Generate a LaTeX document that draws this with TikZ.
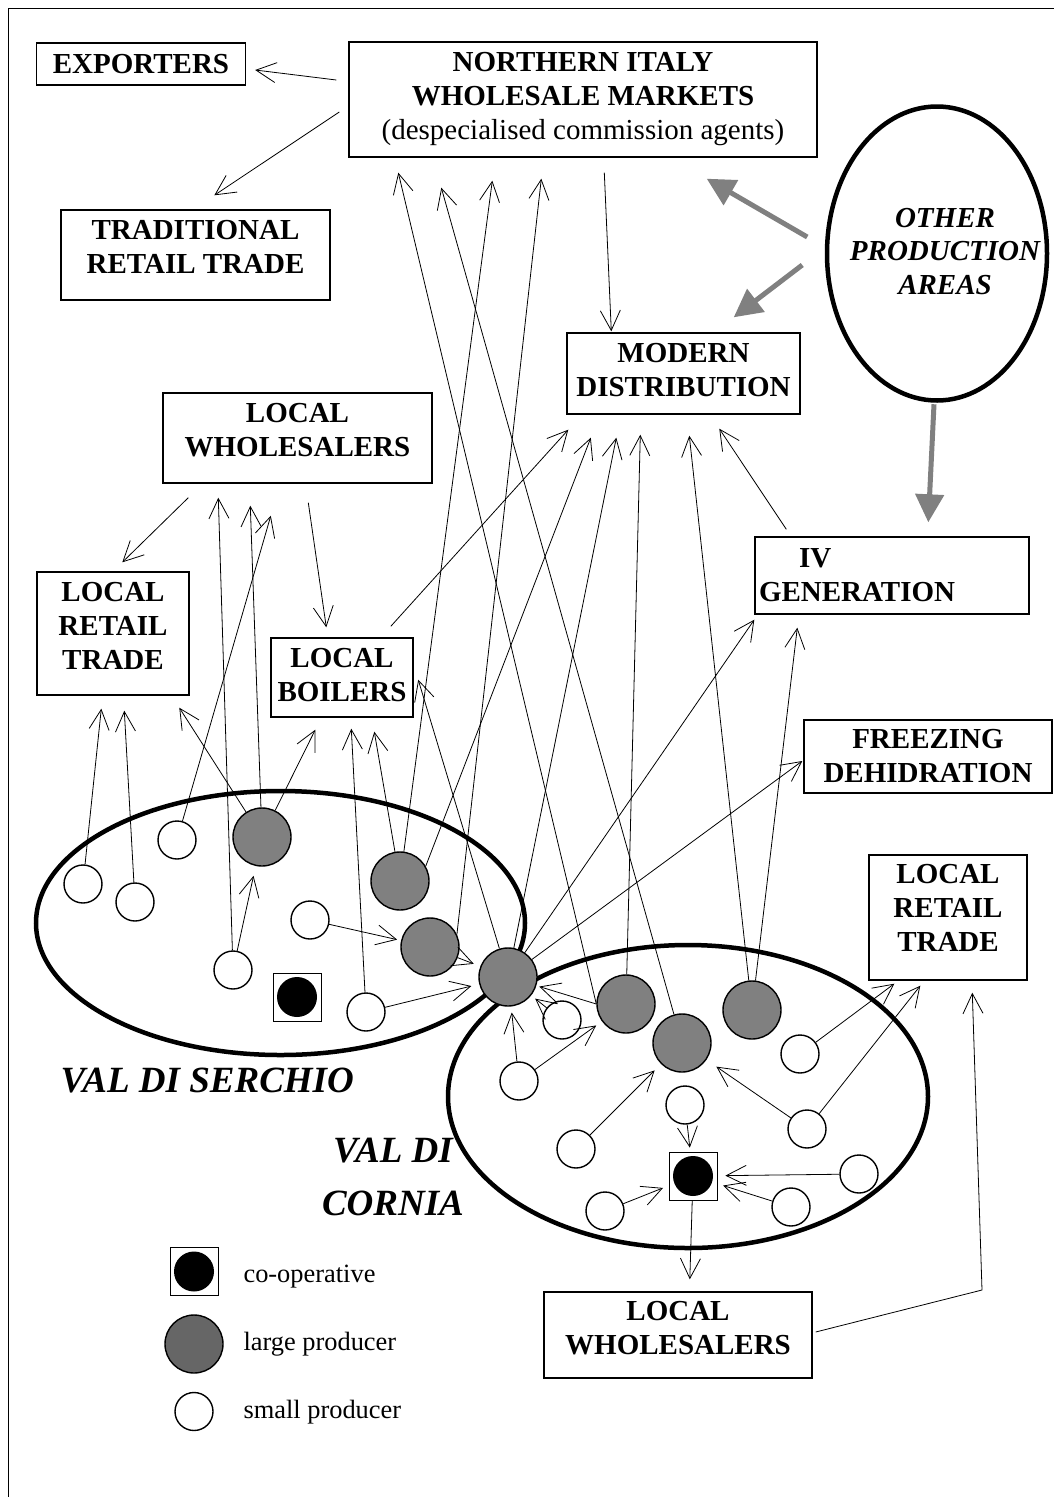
\documentclass[tikz,border=0pt]{standalone}
\usepackage{fontspec}
\setmainfont{Liberation Serif}
\usetikzlibrary{positioning}
\usetikzlibrary{shapes.geometric}
\usetikzlibrary{arrows.meta}

\definecolor{prodgray}{RGB}{128,128,128}
\definecolor{keygray}{RGB}{102,102,102}

\begin{document}
\begin{tikzpicture}[x=1pt, y=-1pt,
  box/.style={draw, line width=1.4pt, inner sep=0pt, align=center,
    font=\fontsize{29}{34}\selectfont\bfseries},
  region/.style={ellipse, draw, line width=4.5pt, inner sep=0pt},
  smallp/.style={circle, draw, line width=1.4pt, fill=white,
    minimum size=38pt, inner sep=0pt},
  largep/.style={smallp, fill=prodgray, minimum size=58pt},
  coop/.style={draw, line width=0.8pt, fill=white, minimum size=48pt, inner sep=0pt,
    path picture={\fill[black] (path picture bounding box.center) circle (20pt);}},
  flow/.style={line width=0.8pt, -{Straight Barb[length=20pt,width=20pt]}},
  feed/.style={draw=prodgray, line width=5pt, -{Triangle[length=28pt,width=28pt]}},
  area/.style={font=\fontsize{37}{53}\selectfont\bfseries\itshape, align=center},
  keytext/.style={font=\fontsize{26.4}{30}\selectfont, anchor=west},
]
\useasboundingbox (0,0) rectangle (1054,1497);
\draw[line width=1.5pt] (8.5,1497) -- (8.5,8.5) -- (1054,8.5);

%boxes
\node[box, minimum width=209pt, minimum height=42pt] (exp) at (141,64) {EXPORTERS};
\node[box, minimum width=468pt, minimum height=115pt] (nim) at (583,99.5)
  {NORTHERN ITALY\\WHOLESALE MARKETS\\{\mdseries (despecialised commission agents)}};
\node[box, minimum width=269pt, minimum height=90pt, text depth=17pt] (trad) at (195.5,255) {TRADITIONAL\\RETAIL TRADE};
\node[box, minimum width=233pt, minimum height=81pt, text depth=7pt] (mod) at (683.5,373.5) {MODERN\\DISTRIBUTION};
\node[box, minimum width=269pt, minimum height=90pt, text depth=17pt] (lwa) at (297.5,438) {LOCAL\\WHOLESALERS};
\node[box, minimum width=152pt, minimum height=123pt, text depth=15pt] (lrta) at (113,633.5) {LOCAL\\RETAIL\\TRADE};
\node[box, minimum width=142pt, minimum height=79pt, text depth=6pt] (boil) at (342,677.5) {LOCAL\\BOILERS};
\node[box, minimum width=274pt, minimum height=77pt, text width=266pt, align=left] (ivg) at (892,575.5)
  {\hspace*{40pt}IV\\GENERATION};
\node[box, minimum width=248pt, minimum height=73pt] (frz) at (928,756.5) {FREEZING\\DEHIDRATION};
\node[box, minimum width=158pt, minimum height=125pt, text depth=19pt] (lrtb) at (948,917.5) {LOCAL\\RETAIL\\TRADE};
\node[box, minimum width=268pt, minimum height=86pt, text depth=15pt] (lwb) at (678,1335) {LOCAL\\WHOLESALERS};
\node[region, minimum width=220pt, minimum height=294pt] (opa) at (937,253.5) {};
\node[align=center, font=\fontsize{29}{33.5}\selectfont\bfseries\itshape] (opatxt) at (945,251.5)
  {OTHER\\PRODUCTION\\AREAS};

%areas
\node[region, minimum width=489pt, minimum height=264pt] (serchio) at (280.5,923) {};
\node[region, minimum width=480pt, minimum height=303pt] (cornia) at (688,1096.5) {};
\node[area, anchor=base west] (serlab) at (57,1092) {VAL DI SERCHIO};
\node[area] (corlab) at (393,1176.5) {VAL DI\\CORNIA};

%val di serchio
\node[smallp] (s1) at (83,884) {};
\node[smallp] (s2) at (135,902) {};
\node[smallp] (s3) at (177,840) {};
\node[smallp] (s4) at (233,970) {};
\node[smallp] (s5) at (310,920) {};
\node[smallp] (s6) at (366,1012) {};
\node[largep] (l1) at (262,837) {};
\node[largep] (l2) at (400,881) {};
\node[largep] (l3) at (430,947) {};
\node[coop] (co1) at (297,997) {};
\node[largep] (hub) at (508,977) {};
%val di cornia
\node[largep] (cl1) at (626,1004) {};
\node[largep] (cl2) at (682,1043) {};
\node[largep] (cl3) at (752,1010) {};
\node[smallp] (cs1) at (562,1020) {};
\node[smallp] (cs2) at (519,1081) {};
\node[smallp] (cs3) at (685,1105) {};
\node[smallp] (cs4) at (576,1149) {};
\node[smallp] (cs5) at (800,1054) {};
\node[smallp] (cs6) at (807,1129) {};
\node[smallp] (cs7) at (859,1174) {};
\node[smallp] (cs8) at (791,1207) {};
\node[smallp] (cs9) at (605,1211) {};
\node[coop] (co2) at (693,1176) {};

%legend
\node[coop] (kco) at (194,1271.5) {};
\node[largep, fill=keygray] (klg) at (194,1344) {};
\node[smallp] (ksm) at (194,1411.5) {};
\node[keytext] (kcot) at (240,1277) {co-operative};
\node[keytext] (klgt) at (240,1344) {large producer};
\node[keytext] (ksmt) at (240,1412) {small producer};

%markets and traders
\draw[flow] ([xshift=-12pt,yshift=19.5pt]nim.west) -- ([xshift=9pt,yshift=-6pt]exp.east);
\draw[flow] ([xshift=-9pt,yshift=-12.5pt]nim.west) -- ([xshift=154pt,yshift=14pt]trad.north west);
\draw[flow] ([xshift=256pt,yshift=-15pt]nim.south west) -- ([xshift=45pt,yshift=1pt]mod.north west);
\draw[flow] ([xshift=26pt,yshift=-14pt]lwa.south west) -- ([xshift=86pt,yshift=9pt]lrta.north west);
\draw[flow] ([xshift=146pt,yshift=-19pt]lwa.south west) -- ([xshift=56pt,yshift=10pt]boil.north west);
\draw[flow] ([xshift=120.5pt,yshift=11pt]boil.north west) -- ([xshift=2pt,yshift=-15pt]mod.south west);
\draw[flow] ([xshift=32pt,yshift=7pt]ivg.north west) -- ([xshift=153pt,yshift=-14pt]mod.south west);
\coordinate (bend) at (982,1290);
\draw[flow] ([xshift=3pt,yshift=3pt]lwb.east) -- (bend) -- ([xshift=104pt,yshift=-12pt]lrtb.south west);

%other production areas
\draw[feed] ([xshift=-17.5pt,yshift=16.5pt]opa.west) -- ([xshift=-111pt,yshift=-21pt]nim.south east);
\draw[feed] ([xshift=-22.5pt,yshift=-11.5pt]opa.west) -- ([xshift=-67pt,yshift=15pt]mod.north east);
\draw[feed] ([xshift=-3pt,yshift=-1.5pt]opa.south) -- ([xshift=174pt,yshift=14pt]ivg.north west);

%producers to the trade
\foreach \fr/\tonode/\dx/\dy in {s1/lrta.south west/65/-13, s2/lrta.south west/88/-15,
  l1/lrta.south west/143/-12, s4/lwa.south west/56/-14, l1/lwa.south west/88/-22,
  s3/lwa.south west/108.5/-32, l1/boil.south west/45/-12, s6/boil.south west/81/-11,
  l2/boil.south west/104/-14, hub/boil.south east/4.5/38, cl1.west/nim.south west/50/-15,
  cl2/nim.south west/93/-30, l2/nim.south west/144/-23, l3.25/nim.south west/193/-21,
  l2.30/mod.south west/24.5/-23, hub/mod.south west/50/-23, cl1/mod.south west/74/-20,
  cl3/mod.south west/123/-21, hub/ivg.south west/0/-5, cl3/ivg.south west/43/-13,
  hub/frz.west/-1/-4.5, cs5/lrtb.south west/26/-3, cs6/lrtb.south west/52/-5,
  co2/lwb.north west/146.5/12}
  \draw[flow] (\fr) -- ([xshift=\dx pt, yshift=\dy pt]\tonode);

%producers to producers
\foreach \fr/\tonode/\gap in {s4/l1/10, s5/l3/4, l3/hub/7, s6/hub/8, cs2/hub/6,
  cs2/cl1/7, cs1/hub/5, cl1.west/hub/3, cs4/cl2/9, cs6/cl2/12, cs3/co2/4,
  cs7/co2/8, cs8/co2/6, cs9/co2/6}
  \draw[flow, shorten >=\gap pt] (\fr) -- (\tonode);
\end{tikzpicture}
\end{document}
